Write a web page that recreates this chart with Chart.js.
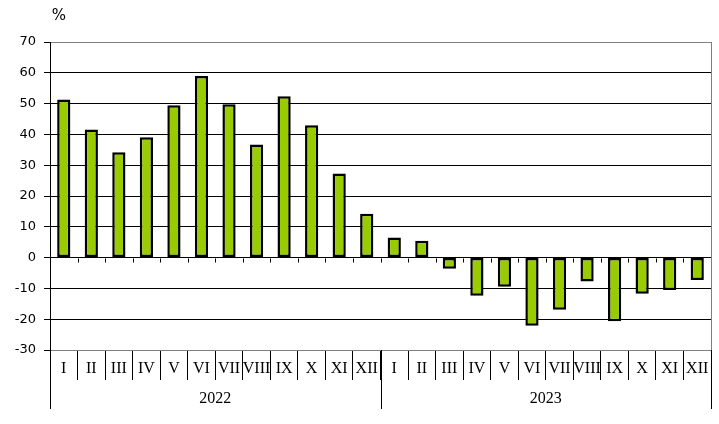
<!DOCTYPE html>
<html>
<head>
<meta charset="utf-8">
<script src="https://cdn.jsdelivr.net/npm/chart.js@4"></script>
<style>
  body { margin: 0; background: #fff; }
</style>
</head>
<body>
<canvas id="chart" width="719" height="424"></canvas>
<script>
const months = ['I', 'II', 'III', 'IV', 'V', 'VI', 'VII', 'VIII', 'IX', 'X', 'XI', 'XII'];
const years = ['2022', '2023'];
const values2022 = [51.3, 41.6, 34.2, 39.1, 49.5, 59.0, 49.8, 36.7, 52.4, 43.0, 27.3, 14.2];
const values2023 = [6.5, 5.5, -3.6, -12.4, -9.5, -22.1, -16.9, -7.8, -20.7, -11.7, -10.5, -7.3];
const yTicks = [-30, -20, -10, 0, 10, 20, 30, 40, 50, 60, 70];

const labels = years.flatMap(() => months);
const values = values2022.concat(values2023);

// separators, year labels, zero-line ticks and the "%" caption
const extras = {
    id: 'extras',
    afterDraw(chart) {
        const ctx = chart.ctx;
        const area = chart.chartArea;
        const x = chart.scales.x;
        const y = chart.scales.y;
        const step = (area.right - area.left) / labels.length;
        const zero = Math.round(y.getPixelForValue(0)) + 0.5;
        const bottom = 409;

        ctx.save();
        ctx.lineWidth = 1;

        // right border of plot area
        ctx.strokeStyle = '#808080';
        ctx.beginPath();
        ctx.moveTo(Math.round(area.right) + 0.5, area.top);
        ctx.lineTo(Math.round(area.right) + 0.5, area.bottom);
        ctx.stroke();

        // small ticks below zero line
        ctx.strokeStyle = '#000';
        ctx.beginPath();
        for (let i = 1; i < labels.length; i++) {
            const px = Math.round(x.getPixelForValue(i) - step / 2) + 0.5;
            ctx.moveTo(px, zero);
            ctx.lineTo(px, zero + 4);
        }
        ctx.stroke();

        // year separators and labels
        ctx.beginPath();
        years.forEach((yr, k) => {
            const px = Math.round(x.getPixelForValue(k * months.length) - step / 2) + 0.5;
            ctx.moveTo(px, area.bottom);
            ctx.lineTo(px, bottom);
        });
        const last = Math.round(area.right) + 0.5;
        ctx.moveTo(last, area.bottom);
        ctx.lineTo(last, bottom);
        ctx.stroke();

        ctx.fillStyle = '#000';
        ctx.font = '16px "Liberation Serif"';
        ctx.textAlign = 'center';
        ctx.textBaseline = 'middle';
        years.forEach((yr, k) => {
            const a = x.getPixelForValue(k * months.length) - step / 2;
            const b = x.getPixelForValue((k + 1) * months.length - 1) + step / 2;
            ctx.fillText(yr, (a + b) / 2, 399);
        });

        ctx.font = '15px "DejaVu Sans"';
        ctx.fillText('%', 59, 16);
        ctx.restore();
    }
};

const ctx = document.getElementById('chart').getContext('2d');
new Chart(ctx, {
    type: 'bar',
    data: {
        labels: labels,
        datasets: [{
            data: values,
            backgroundColor: '#99cc00',
            borderColor: '#000',
            borderWidth: 2.5,
            borderSkipped: false,
            barPercentage: 0.48,
            categoryPercentage: 1.0
        }]
    },
    options: {
        responsive: false,
        animation: false,
        layout: { padding: { top: 42, right: 8, left: 0, bottom: 0 } },
        plugins: { legend: { display: false }, tooltip: { enabled: false } },
        scales: {
            x: {
                offset: true,
                grid: {
                    offset: true,
                    drawOnChartArea: false,
                    tickLength: 30,
                    color: c => (c.index === 0 || c.index >= labels.length) ? 'rgba(0,0,0,0)' : '#000'
                },
                border: { color: '#808080' },
                ticks: {
                    autoSkip: false,
                    maxRotation: 0,
                    padding: -21,
                    color: '#000',
                    font: { family: 'Liberation Serif', size: 16 }
                },
                afterFit(scale) { scale.height = 74; }
            },
            y: {
                min: -30,
                max: 70,
                afterBuildTicks(scale) { scale.ticks = yTicks.map(v => ({ value: v })); },
                grid: {
                    color: c => (c.tick && (c.tick.value === 70 || c.tick.value === -30)) ? '#808080' : '#000',
                    tickColor: '#000',
                    tickLength: 6
                },
                border: { color: '#000' },
                ticks: {
                    padding: 8,
                    color: '#000',
                    font: { family: 'DejaVu Sans', size: 13 }
                },
                afterFit(scale) { scale.width = 50; }
            }
        }
    },
    plugins: [extras]
});
</script>
</body>
</html>
